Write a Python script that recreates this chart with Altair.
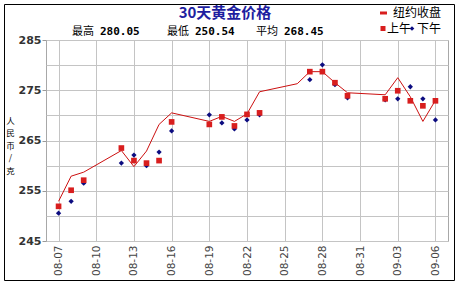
import altair as alt
import pandas as pd

# ---- data ----
dates = ["08-07", "08-08", "08-09", "08-12", "08-13", "08-14", "08-15", "08-16",
         "08-19", "08-20", "08-21", "08-22", "08-23", "08-26", "08-27", "08-28",
         "08-29", "08-30", "09-02", "09-03", "09-04", "09-05", "09-06"]
ny_close = [252.9, 257.9, 258.7, 263.0, 259.8, 262.9, 268.2, 270.5,
            268.8, 269.8, 268.8, 270.3, 274.7, 276.3, 278.7, 278.7,
            276.5, 274.5, 274.1, 277.5, 273.7, 268.8, 273.0]
am_price = [251.9, 255.1, 257.1, 263.5, 261.0, 260.5, 261.0, 268.7,
            268.2, 269.7, 267.9, 270.2, 270.5, None, 278.7, 278.7,
            276.5, 273.9, 273.3, 274.9, 272.9, 271.9, 272.9]
pm_price = [250.54, 252.9, 256.5, 260.5, 262.1, 260.0, 262.7, 266.9,
            270.1, 268.5, 267.3, 269.1, 270.1, None, 277.1, 280.05,
            276.1, 273.5, 273.1, 273.3, 275.7, 273.3, 269.1]

title_text = "30天黄金价格"
stat_labels = ["最高", "最低", "平均"]
stat_values = ["280.05", "250.54", "268.45"]
legend_labels = ["纽约收盘", "上午", "下午"]
y_title = ["人", "民", "币", "/", "克"]
y_grid_values = [245, 250, 255, 260, 265, 270, 275, 280, 285]
x_tick_days = [1, 4, 7, 10, 13, 16, 19, 22, 25, 28, 31]   # 08-07 ... 09-06

# ---- build table ----
base = pd.Timestamp("2013-08-06")
day = [(pd.Timestamp("2013-" + d) - base).days for d in dates]
rows = []
for d, s, v in zip(day * 3, ["ny"] * len(day) + ["am"] * len(day) + ["pm"] * len(day),
                   ny_close + am_price + pm_price):
    if v is not None:
        rows.append({"day": d, "series": s, "price": v})
df = pd.DataFrame(rows)

RED = "#d81e1e"
BLUE = "#0c0c80"
CJK = "Noto Sans CJK SC"

x_enc = alt.X(
    "day:Q",
    scale=alt.Scale(domain=[0, 32], nice=False, zero=False),
    axis=alt.Axis(
        values=x_tick_days,
        labelExpr="timeFormat(datetime(2013, 7, 6 + datum.value), '%m-%d')",
        labelAngle=270, ticks=False, domain=False, grid=True,
        labelFont="DejaVu Sans", labelFontSize=10.5, labelColor="#444444",
        labelPadding=4, title=None,
    ),
)
y_enc = alt.Y(
    "price:Q",
    scale=alt.Scale(domain=[245, 285], nice=False, zero=False),
    axis=alt.Axis(
        values=y_grid_values,
        labelExpr="datum.value % 10 == 5 ? datum.label : ''",
        tickOpacity={"condition": {"test": "datum.value % 10 == 5", "value": 1}, "value": 0},
        tickSize=4, tickColor="#999999", domain=False, grid=True,
        labelFont="DejaVu Sans", labelFontWeight="bold", labelFontSize=11,
        labelColor="#333333", labelPadding=1,
        title=y_title, titleAngle=0, titleX=-36, titleY=76,
        titleAlign="center", titleBaseline="top", titleLineHeight=12.5,
        titleFont=CJK, titleFontSize=8.5, titleFontWeight="normal", titleColor="#000000",
    ),
)

base_chart = alt.Chart(df)
line = base_chart.transform_filter("datum.series == 'ny'").mark_line(
    color="#cc1010", strokeWidth=1
).encode(x=x_enc, y=y_enc)
pm_pts = base_chart.transform_filter("datum.series == 'pm'").mark_point(
    shape="diamond", filled=True, size=28, color=BLUE, opacity=1
).encode(x=x_enc, y=y_enc)
am_pts = base_chart.transform_filter("datum.series == 'am'").mark_point(
    shape="square", filled=True, size=32, color=RED, opacity=1
).encode(x=x_enc, y=y_enc)

one = pd.DataFrame({"k": [0]})

def text_layer(txt, xv, yv, font, size, weight="normal", color="#000000", align="left"):
    return alt.Chart(pd.DataFrame({"t": [txt]})).mark_text(
        font=font, fontSize=size, fontWeight=weight, color=color,
        align=align, baseline="middle"
    ).encode(text="t:N", x=alt.value(xv), y=alt.value(yv))

layers = [line, pm_pts, am_pts]

# outer frame
layers.append(alt.Chart(one).mark_rect(fill=None, stroke="#000000", strokeWidth=1).encode(
    x=alt.value(-41.5), x2=alt.value(408.5), y=alt.value(-35.5), y2=alt.value(240.5)))

# title
layers.append(text_layer(title_text, 179, -27, CJK, 15, "bold", "#1e1ea0", "center"))

# stats line
stat_x = [26, 121, 210]
for lab, val, sx in zip(stat_labels, stat_values, stat_x):
    layers.append(text_layer(lab, sx, -8, CJK, 11))
    layers.append(text_layer(val, sx + 28, -8, "DejaVu Sans Mono", 11, "bold"))

# legend
layers.append(alt.Chart(one).mark_rule(color=RED, strokeWidth=3).encode(
    x=alt.value(334), x2=alt.value(341), y=alt.value(-27)))
layers.append(text_layer(legend_labels[0], 347, -27, CJK, 12))
layers.append(alt.Chart(one).mark_point(shape="square", filled=True, size=25, color=RED, opacity=1).encode(
    x=alt.value(337), y=alt.value(-11.5)))
layers.append(text_layer(legend_labels[1], 341, -11.5, CJK, 12))
layers.append(alt.Chart(one).mark_point(shape="diamond", filled=True, size=22, color=BLUE, opacity=1).encode(
    x=alt.value(366), y=alt.value(-11.5)))
layers.append(text_layer(legend_labels[2], 371, -11.5, CJK, 12))

chart = alt.layer(*layers).properties(
    width=402, height=201,
    autosize=alt.AutoSizeParams(type="none"),
    padding={"left": 46, "top": 40, "right": 11, "bottom": 43},
    background="white",
).configure_view(stroke="#a8a8a8").configure_axis(gridColor="#c4c4c4", gridWidth=1)

chart.save("out.html", embed_options={"renderer": "svg", "actions": False})
